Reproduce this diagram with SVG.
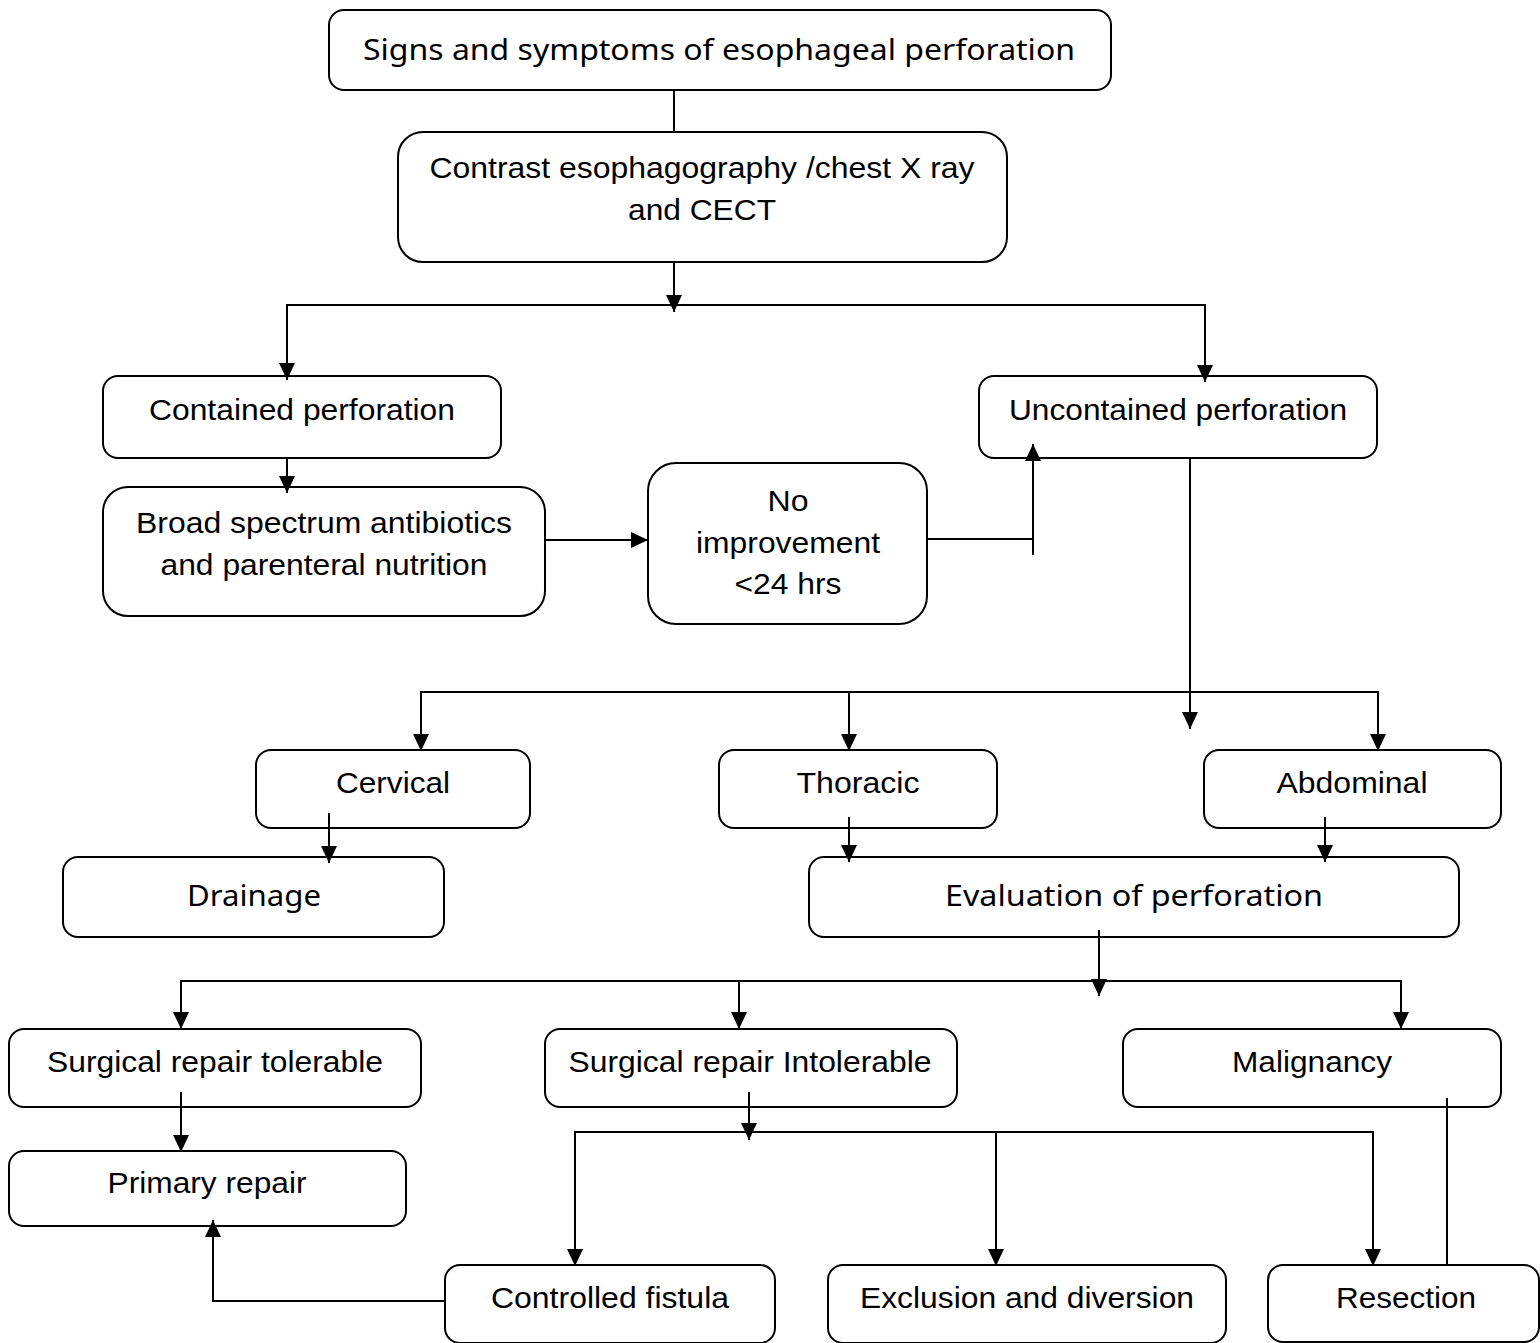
<svg xmlns="http://www.w3.org/2000/svg" width="1540" height="1343" viewBox="0 0 1540 1343">
<style>
.box{fill:#fff;stroke:#000;stroke-width:2}
.t{font-family:"Liberation Sans",Arial,sans-serif;font-size:29px;fill:#000;text-anchor:middle}
.c{font-family:"Noto Sans","Open Sans",sans-serif;font-size:29px;fill:#000;text-anchor:middle}
.ln{fill:none;stroke:#000;stroke-width:2}
</style>
<defs>
<marker id="ah" viewBox="0 0 17 16" refX="17" refY="8" markerWidth="17" markerHeight="16" markerUnits="userSpaceOnUse" orient="auto">
<path d="M0,0 L17,8 L0,16 z" fill="#000"/>
</marker>
</defs>
<rect width="1540" height="1343" fill="#fff"/>

<g id="n1"><rect class="box" x="329" y="10" width="782" height="80" rx="15"/>
<text class="c" x="719" y="60" font-size="31" textLength="712" lengthAdjust="spacingAndGlyphs">Signs and symptoms of esophageal perforation</text></g>

<g id="n2"><rect class="box" x="398" y="132" width="609" height="130" rx="25"/>
<text class="t" x="702" y="178" textLength="545" lengthAdjust="spacingAndGlyphs">Contrast esophagography /chest X ray</text>
<text class="t" x="702" y="220" textLength="148" lengthAdjust="spacingAndGlyphs">and CECT</text></g>

<g id="n3"><rect class="box" x="103" y="376" width="398" height="82" rx="15"/>
<text class="t" x="302" y="420" textLength="306" lengthAdjust="spacingAndGlyphs">Contained perforation</text></g>

<g id="n4"><rect class="box" x="979" y="376" width="398" height="82" rx="15"/>
<text class="t" x="1178" y="420" textLength="338" lengthAdjust="spacingAndGlyphs">Uncontained perforation</text></g>

<g id="n5"><rect class="box" x="103" y="487" width="442" height="129" rx="25"/>
<text class="t" x="324" y="533" textLength="376" lengthAdjust="spacingAndGlyphs">Broad spectrum antibiotics</text>
<text class="t" x="324" y="575" textLength="327" lengthAdjust="spacingAndGlyphs">and parenteral nutrition</text></g>

<g id="n6"><rect class="box" x="648" y="463" width="279" height="161" rx="28"/>
<text class="t" x="788" y="511" textLength="41" lengthAdjust="spacingAndGlyphs">No</text>
<text class="t" x="788" y="553" textLength="184" lengthAdjust="spacingAndGlyphs">improvement</text>
<text class="t" x="788" y="594" textLength="107" lengthAdjust="spacingAndGlyphs">&lt;24 hrs</text></g>

<g id="n7"><rect class="box" x="256" y="750" width="274" height="78" rx="15"/>
<text class="t" x="393" y="793" textLength="114" lengthAdjust="spacingAndGlyphs">Cervical</text></g>

<g id="n8"><rect class="box" x="719" y="750" width="278" height="78" rx="15"/>
<text class="t" x="858" y="793" textLength="123" lengthAdjust="spacingAndGlyphs">Thoracic</text></g>

<g id="n9"><rect class="box" x="1204" y="750" width="297" height="78" rx="15"/>
<text class="t" x="1352" y="793" textLength="151" lengthAdjust="spacingAndGlyphs">Abdominal</text></g>

<g id="n10"><rect class="box" x="63" y="857" width="381" height="80" rx="15"/>
<text class="c" x="254" y="906" textLength="134" lengthAdjust="spacingAndGlyphs">Drainage</text></g>

<g id="n11"><rect class="box" x="809" y="857" width="650" height="80" rx="15"/>
<text class="c" x="1134" y="906" textLength="378" lengthAdjust="spacingAndGlyphs">Evaluation of perforation</text></g>

<g id="n12"><rect class="box" x="9" y="1029" width="412" height="78" rx="15"/>
<text class="t" x="215" y="1072" textLength="336" lengthAdjust="spacingAndGlyphs">Surgical repair tolerable</text></g>

<g id="n13"><rect class="box" x="545" y="1029" width="412" height="78" rx="15"/>
<text class="t" x="750" y="1072" textLength="363" lengthAdjust="spacingAndGlyphs">Surgical repair Intolerable</text></g>

<g id="n14"><rect class="box" x="1123" y="1029" width="378" height="78" rx="15"/>
<text class="t" x="1312" y="1072" textLength="160" lengthAdjust="spacingAndGlyphs">Malignancy</text></g>

<g id="n15"><rect class="box" x="9" y="1151" width="397" height="75" rx="15"/>
<text class="t" x="207" y="1193" textLength="199" lengthAdjust="spacingAndGlyphs">Primary repair</text></g>

<g id="n16"><rect class="box" x="445" y="1265" width="330" height="78" rx="15"/>
<text class="t" x="610" y="1308" textLength="238" lengthAdjust="spacingAndGlyphs">Controlled fistula</text></g>

<g id="n17"><rect class="box" x="828" y="1265" width="398" height="78" rx="15"/>
<text class="t" x="1027" y="1308" textLength="334" lengthAdjust="spacingAndGlyphs">Exclusion and diversion</text></g>

<g id="n18"><rect class="box" x="1268" y="1265" width="271" height="77" rx="15"/>
<text class="t" x="1406" y="1308" textLength="140" lengthAdjust="spacingAndGlyphs">Resection</text></g>

<g id="connectors">
<line class="ln" x1="674" y1="90" x2="674" y2="132"/>
<line class="ln" x1="674" y1="262" x2="674" y2="312" marker-end="url(#ah)"/>
<polyline class="ln" points="287,360 287,305 1205,305 1205,360" />
<line class="ln" x1="287" y1="340" x2="287" y2="380" marker-end="url(#ah)"/>
<line class="ln" x1="1205" y1="340" x2="1205" y2="382" marker-end="url(#ah)"/>
<line class="ln" x1="287" y1="458" x2="287" y2="493" marker-end="url(#ah)"/>
<line class="ln" x1="545" y1="540" x2="648" y2="540" marker-end="url(#ah)"/>
<polyline class="ln" points="927,539 1033,539"/>
<line class="ln" x1="1033" y1="555" x2="1033" y2="444" marker-end="url(#ah)"/>
<line class="ln" x1="1190" y1="458" x2="1190" y2="729" marker-end="url(#ah)"/>
<polyline class="ln" points="421,730 421,692 1378,692 1378,730"/>
<line class="ln" x1="421" y1="710" x2="421" y2="751" marker-end="url(#ah)"/>
<line class="ln" x1="849" y1="692" x2="849" y2="751" marker-end="url(#ah)"/>
<line class="ln" x1="1378" y1="710" x2="1378" y2="751" marker-end="url(#ah)"/>
<line class="ln" x1="329" y1="813" x2="329" y2="863" marker-end="url(#ah)"/>
<line class="ln" x1="849" y1="817" x2="849" y2="862" marker-end="url(#ah)"/>
<line class="ln" x1="1325" y1="817" x2="1325" y2="862" marker-end="url(#ah)"/>
<line class="ln" x1="1099" y1="930" x2="1099" y2="996" marker-end="url(#ah)"/>
<polyline class="ln" points="181,1010 181,981 1401,981 1401,1010"/>
<line class="ln" x1="181" y1="1000" x2="181" y2="1029" marker-end="url(#ah)"/>
<line class="ln" x1="739" y1="981" x2="739" y2="1029" marker-end="url(#ah)"/>
<line class="ln" x1="1401" y1="1000" x2="1401" y2="1029" marker-end="url(#ah)"/>
<line class="ln" x1="181" y1="1092" x2="181" y2="1152" marker-end="url(#ah)"/>
<line class="ln" x1="749" y1="1092" x2="749" y2="1140" marker-end="url(#ah)"/>
<polyline class="ln" points="575,1220 575,1132 1373,1132 1373,1220"/>
<line class="ln" x1="575" y1="1200" x2="575" y2="1266" marker-end="url(#ah)"/>
<line class="ln" x1="996" y1="1132" x2="996" y2="1266" marker-end="url(#ah)"/>
<line class="ln" x1="1373" y1="1200" x2="1373" y2="1266" marker-end="url(#ah)"/>
<line class="ln" x1="1447" y1="1098" x2="1447" y2="1265"/>
<polyline class="ln" points="445,1301 213,1301 213,1240"/>
<line class="ln" x1="213" y1="1260" x2="213" y2="1220" marker-end="url(#ah)"/>
</g>
</svg>
